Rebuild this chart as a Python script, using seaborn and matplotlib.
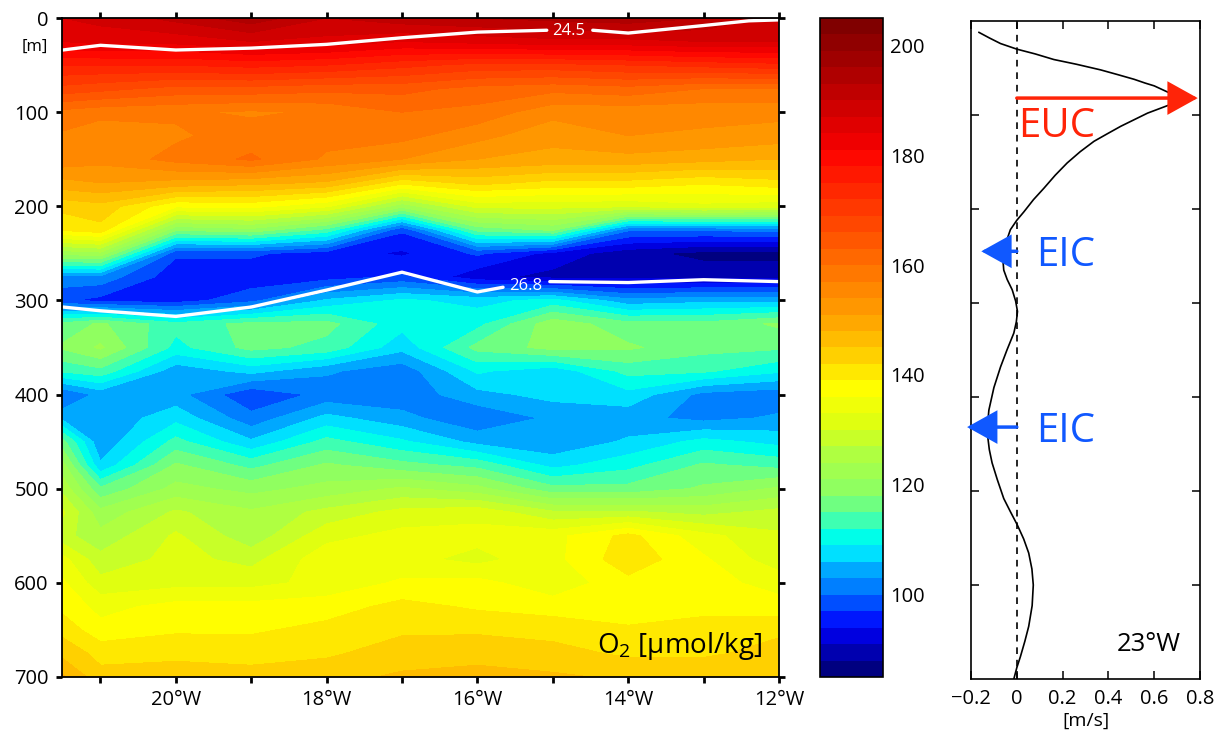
import matplotlib
matplotlib.use('Agg')
import matplotlib.pyplot as plt
import seaborn as sns
import numpy as np
from matplotlib.colors import LinearSegmentedColormap, Normalize

# O2 section, one row per depth, columns are the longitudes
lons = [-21.5, -21, -20, -19, -18, -17, -16, -15, -14, -13, -12]
depths = [0, 25, 50, 75, 100, 125, 150, 175, 200, 225, 250, 275, 300, 325, 350,
          375, 400, 425, 450, 475, 500, 525, 550, 575, 600, 625, 650, 675, 700]
o2_000 = [187, 188, 191, 195, 190, 192, 193, 194, 195, 193, 189]
o2_025 = [184, 185, 185, 187, 186, 184, 185, 186, 186, 187, 187]
o2_050 = [175, 175, 175, 176, 175, 173, 171, 171, 172, 173, 174]
o2_075 = [168, 167, 165, 165, 164, 164, 162, 161, 162, 160, 160]
o2_100 = [159, 158, 157.5, 156.5, 157.5, 160, 159, 155, 155, 155, 155]
o2_125 = [156.5, 155, 156.5, 158.5, 158, 158, 155, 152, 154, 153.5, 152.5]
o2_150 = [156, 155, 158, 160.5, 156.5, 154, 151, 150, 150, 149, 148]
o2_175 = [150, 151, 150, 149, 147.5, 140, 143, 141, 141, 139.5, 141]
o2_200 = [143, 144, 136.5, 137, 133.5, 122, 131, 131, 130.5, 132, 131]
o2_225 = [139.5, 141, 118.5, 120, 114, 97.5, 116, 118.5, 100.5, 100.5, 101]
o2_250 = [122, 123, 97.5, 97.5, 95.5, 93.5, 97.5, 93, 89, 87, 87]
o2_275 = [102, 102, 95, 95, 95.5, 97.5, 92, 90, 90, 90, 90]
o2_300 = [97.5, 96, 95.5, 99, 106.5, 109.5, 108, 110, 104, 105, 105]
o2_325 = [116, 118.5, 113, 116, 116, 110, 111, 120, 116, 116, 118.5]
o2_350 = [118.5, 121.5, 111, 116, 114, 107, 116, 119, 118.5, 116, 115.5]
o2_375 = [112.5, 114, 104, 107, 103.5, 101, 109.5, 107, 113, 112.5, 109.5]
o2_400 = [100, 104, 104, 97.5, 101, 101, 105, 107, 108, 102, 101]
o2_425 = [105, 103.5, 108, 101, 107, 104, 100.5, 103.6, 104, 102, 103.5]
o2_450 = [116, 103.5, 113, 106.5, 113, 109.5, 105, 103.5, 106.5, 110, 108]
o2_475 = [122, 106.5, 118.5, 114, 118.5, 116, 114, 108, 111, 115.5, 114]
o2_500 = [126, 115.5, 122, 120, 122, 124.5, 122, 116, 116, 118.5, 121.5]
o2_525 = [130.5, 122, 127.5, 124.5, 128, 131, 132, 127.5, 127.5, 126, 128]
o2_550 = [128, 125, 130.5, 125, 132, 134, 134, 135, 140, 134, 130.5]
o2_575 = [134, 128, 131, 129, 135, 134, 132, 135, 141, 136.5, 131]
o2_600 = [136.5, 131, 132, 132, 134, 136.5, 137, 134, 138, 137, 135]
o2_625 = [138, 135, 137, 137, 137.5, 140, 138.5, 137.5, 137, 137.5, 137]
o2_650 = [141, 137, 138.5, 138.5, 140, 141.5, 141.5, 141, 139.5, 141, 141.5]
o2_675 = [144, 141, 141.5, 141, 141.5, 143.5, 144, 143, 141.5, 141.5, 143]
o2_700 = [148.5, 143, 143, 143, 144, 145.5, 146, 145.5, 144.5, 144.5, 144.5]

# isopycnals, nan leaves the gap for the label
iso245_lon = [-21.5, -21, -20, -19, -18, -17, -16, -15.08, np.nan, -14.47, -14, -13, -12.4, -12]
iso245_dep = [34, 29, 34, 32, 28, 21, 15, 13, np.nan, 13, 16, 8, 3, 2]
iso268_lon = [-21.5, -21, -20, -19, -18, -17, -16, -15.66, np.nan, -15.04, -14, -13, -12]
iso268_dep = [307, 311, 317, 307, 289, 270, 291, 286, np.nan, 280, 281, 278, 280]

# velocity profile at 23W
vel_depth = [12, 18, 24, 30, 35, 41, 46, 52, 57, 62, 66, 69, 78, 83, 88, 98, 112, 120, 128, 139,
             151, 164, 178, 190, 203, 212, 222, 234, 247, 256, 265, 275, 286, 298, 309, 320, 332,
             350, 368, 390, 414, 428, 442, 456, 470, 488, 508, 522, 536, 551, 566, 583, 600, 622,
             644, 660, 676, 688, 700]
velocity = [-0.166, -0.12, -0.071, 0.001, 0.08, 0.162, 0.26, 0.366, 0.44, 0.512, 0.56, 0.6, 0.68,
            0.70, 0.68, 0.571, 0.454, 0.395, 0.337, 0.277, 0.22, 0.168, 0.118, 0.073, 0.031, 0.0,
            -0.028, -0.045, -0.06, -0.06, -0.057, -0.042, -0.02, -0.005, 0.003, -0.002, -0.013,
            -0.043, -0.071, -0.1, -0.122, -0.127, -0.127, -0.12, -0.108, -0.085, -0.057, -0.028,
            0.002, 0.03, 0.052, 0.066, 0.072, 0.067, 0.052, 0.035, 0.016, 0.0, -0.013]

# arrow tips, speed and depth
euc_tip = (0.79, 82)
eic_upper_tip = (-0.155, 245)
eic_lower_tip = (-0.217, 432)

# colour bar
cmap_values = [85, 86.5, 92.5, 95.5, 98.5, 101.5, 104.5, 107.5, 110.5, 113.5, 116.5, 119.5,
               125.5, 131.5, 137.5, 143.5, 149.5, 155.5, 161.5, 170.5, 179.5, 182.5, 191.5, 203.5, 205]
cmap_colors = ['#000078', '#000080', '#0000e0', '#0018ff', '#0050ff', '#0080ff', '#00a8ff',
               '#00e0ff', '#00ffe8', '#40ffb0', '#70ff80', '#90ff60', '#b0ff40', '#e0ff10',
               '#ffff00', '#ffd000', '#ffa800', '#ff8800', '#ff6800', '#ff3800', '#ff0800',
               '#f00000', '#c00000', '#800000', '#7a0000']

sns.set_style('ticks')
plt.rcParams['font.family'] = ['Open Sans', 'DejaVu Sans']
plt.rcParams['mathtext.default'] = 'regular'
plt.rcParams['font.size'] = 14.5
for key in ['text.color', 'axes.labelcolor', 'axes.edgecolor', 'xtick.color', 'ytick.color']:
    plt.rcParams[key] = 'black'
W, H = 1220, 733


def px_axes(fig, left, top, right, bottom):
    return fig.add_axes([left / W, 1 - bottom / H, (right - left) / W, (bottom - top) / H])


def lon_label(v, pos=None):
    return f'{abs(int(v))}°W'


fig = plt.figure(figsize=(W / 100, H / 100), dpi=100)
ax = px_axes(fig, 62, 18, 779, 677)
cax = px_axes(fig, 820, 18, 883, 677)
vax = px_axes(fig, 971, 21, 1200, 679)

# oxygen section
o2 = np.array([o2_000, o2_025, o2_050, o2_075, o2_100, o2_125, o2_150, o2_175, o2_200, o2_225,
               o2_250, o2_275, o2_300, o2_325, o2_350, o2_375, o2_400, o2_425, o2_450, o2_475,
               o2_500, o2_525, o2_550, o2_575, o2_600, o2_625, o2_650, o2_675, o2_700])
stops = [(v - 85) / 120 for v in cmap_values]
cmap = LinearSegmentedColormap.from_list('o2', list(zip(stops, cmap_colors)), N=512)
cf = ax.contourf(lons, depths, o2, levels=np.arange(85, 208, 3), cmap=cmap, norm=Normalize(85, 205))

ax.plot(iso245_lon, iso245_dep, color='white', lw=2.4)
ax.plot(iso268_lon, iso268_dep, color='white', lw=2.4)
ax.text(-14.79, 14, '24.5', color='white', fontsize=12, ha='center', va='center')
ax.text(-15.36, 285, '26.8', color='white', fontsize=12, ha='center', va='center')
ax.text(-12.22, 667, 'O$_{2}$ [µmol/kg]', color='black', fontsize=20, ha='right', va='center')
ax.text(-21.69, 31, '[m]', fontsize=12, ha='right', va='center')

ax.set_xlim(-21.51, -12)
ax.set_ylim(700, 0)
ax.set_xticks(np.arange(-21, -11, 1))
ax.set_xticklabels([lon_label(v) if v % 2 == 0 else '' for v in np.arange(-21, -11, 1)])
ax.set_yticks(np.arange(0, 800, 100))
ax.tick_params(top=True, right=True, direction='out', length=4.5, width=2, pad=5, labelsize=14.5)
for s in ax.spines.values():
    s.set_linewidth(1.3)

# colour bar
cb = fig.colorbar(cf, cax=cax)
cb.set_ticks(np.arange(90, 210, 10))
cb.set_ticklabels([str(v) if v % 20 == 0 else '' for v in range(90, 210, 10)])
cax.yaxis.set_ticks_position('both')
cax.tick_params(axis='y', direction='in', length=6, width=1.2, labelleft=False, labelright=True,
                labelsize=14.5, pad=5)
cb.outline.set_linewidth(1.2)

# velocity profile
vax.axvline(0, color='black', ls=(0, (4, 3.5)), lw=1.2)
sns.lineplot(x=velocity, y=vel_depth, orient='y', sort=False, estimator=None, color='black',
             lw=1.2, ax=vax)
vax.set_xlim(-0.2, 0.8)
vax.set_ylim(700, 0)
vax.set_xticks(np.arange(-0.2, 0.9, 0.2))
vax.set_xticklabels(['−0.2', '0', '0.2', '0.4', '0.6', '0.8'])
vax.set_yticks(np.arange(100, 700, 100))
vax.set_yticklabels([])
vax.tick_params(top=True, right=True, direction='in', length=6, width=1.1, labelsize=14.5, pad=7)
vax.set_xlabel('[m/s]', fontsize=14, labelpad=2)
for s in vax.spines.values():
    s.set_linewidth(1.2)

for tip, col in [(euc_tip, '#ff2408'), (eic_upper_tip, '#1058ff'), (eic_lower_tip, '#1058ff')]:
    vax.annotate('', xy=tip, xytext=(0, tip[1]), annotation_clip=False,
                 arrowprops=dict(arrowstyle='-|>,head_length=18,head_width=10', mutation_scale=1,
                                 shrinkA=0, shrinkB=0, lw=2.5, color=col, joinstyle='miter'))
vax.text(0.005, 112, 'EUC', color='#ff2408', fontsize=29, ha='left', va='center')
vax.text(0.085, 250, 'EIC', color='#1058ff', fontsize=29, ha='left', va='center')
vax.text(0.085, 437, 'EIC', color='#1058ff', fontsize=29, ha='left', va='center')
vax.text(0.575, 663, '23°W', fontsize=18.5, ha='center', va='center')

fig.savefig('out.png', dpi=100)
